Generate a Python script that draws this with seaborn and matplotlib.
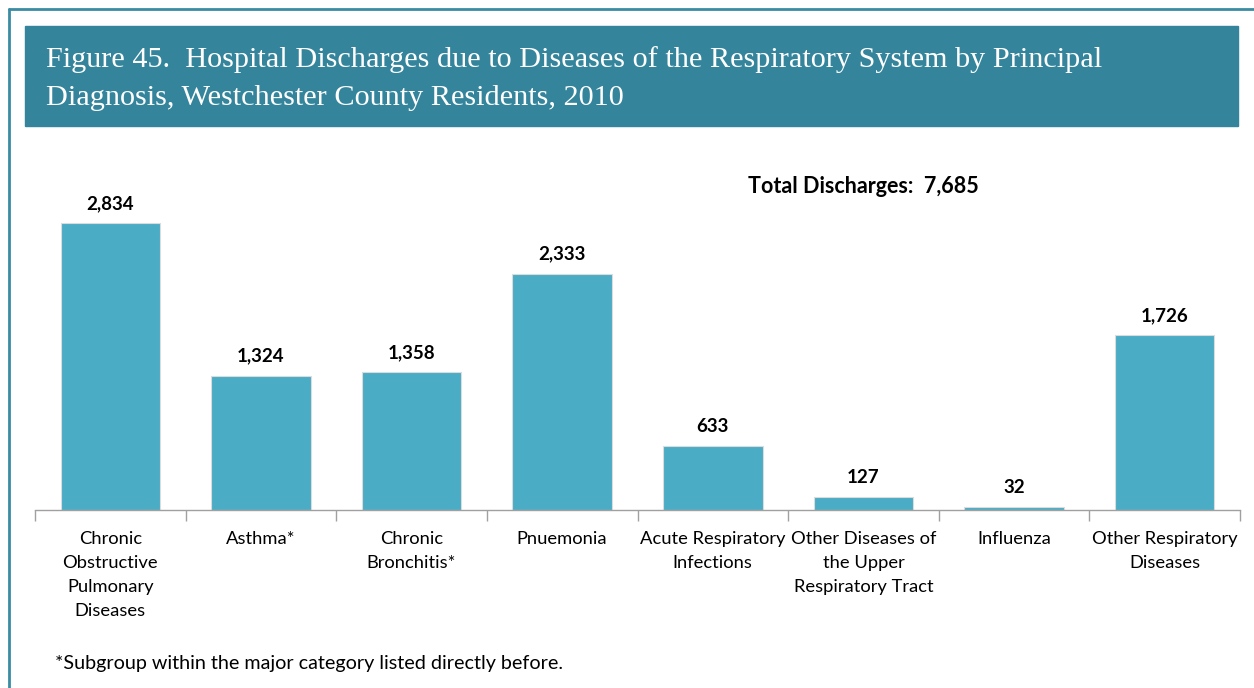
import numpy as np
import pandas as pd
import matplotlib.pyplot as plt
import seaborn as sns
from matplotlib.lines import Line2D
from matplotlib.patches import Rectangle

# Data
categories = ["Chronic\nObstructive\nPulmonary\nDiseases", "Asthma*", "Chronic\nBronchitis*",
              "Pnuemonia", "Acute Respiratory\nInfections", "Other Diseases of\nthe Upper\nRespiratory Tract",
              "Influenza", "Other Respiratory\nDiseases"]
discharges = [2834, 1324, 1358, 2333, 633, 127, 32, 1726]
total = 7685

df = pd.DataFrame({"category": categories, "discharges": discharges})

sns.set_theme(style="white")
plt.rcParams["font.family"] = ["Lato", "DejaVu Sans"]

W, H = 1254, 688
fig = plt.figure(figsize=(W / 100, H / 100), dpi=100)

# outer frame and title banner
frame_col = "#3a8ba3"
fig.add_artist(Line2D([9 / W, 1.0], [1 - 9 / H, 1 - 9 / H], color=frame_col, lw=2))
fig.add_artist(Line2D([9 / W, 9 / W], [0, 1 - 9 / H], color=frame_col, lw=2))
fig.add_artist(Rectangle((25 / W, 1 - 126 / H), (1238 - 25) / W, 100 / H,
                         color="#34849c", transform=fig.transFigure))
fig.text(46 / W, 1 - 60 / H, "Figure 45.  Hospital Discharges due to Diseases of the Respiratory System by Principal",
         color="white", fontsize=21.8, va="center", ha="left", family="Liberation Serif")
fig.text(46 / W, 1 - 98 / H, "Diagnosis, Westchester County Residents, 2010",
         color="white", fontsize=21.8, va="center", ha="left", family="Liberation Serif")

# axes: baseline at y=510 px, 0.1013 px per discharge
ymax = 3200
ax_h = ymax * 0.1013
ax = fig.add_axes([35 / W, 1 - 510 / H, (1240 - 35) / W, ax_h / H])

sns.barplot(data=df, x="category", y="discharges", color="#4bacc6", width=0.66,
            saturation=1, ax=ax, edgecolor="#dcdcdc", linewidth=0.8)
ax.set_ylim(0, ymax)
ax.set_xlim(-0.5, len(categories) - 0.5)

for i, v in enumerate(discharges):
    ax.text(i, v + 110, f"{v:,}", ha="center", va="bottom", fontsize=13.5, fontweight="bold",
            color="black")

ax.set_xlabel("")
ax.set_ylabel("")
ax.set_yticks([])
ax.tick_params(axis="x", which="major", length=0, labelsize=13.2, pad=15, colors="black")
for lab in ax.get_xticklabels():
    lab.set_verticalalignment("top")
    lab.set_linespacing(1.62)
ax.set_xticks(np.arange(-0.5, len(categories), 1.0), minor=True)
ax.tick_params(axis="x", which="minor", length=8, width=1, color="#a0a0a0", direction="out",
               bottom=True)
for side in ["top", "right", "left"]:
    ax.spines[side].set_visible(False)
ax.spines["bottom"].set_color("#a0a0a0")
ax.spines["bottom"].set_linewidth(1)

fig.text(863 / W, 1 - 187 / H, "Total Discharges:  7,685", ha="center", va="center",
         fontsize=15.5, fontweight="bold", color="black")
fig.text(55 / W, 1 - 664 / H, "*Subgroup within the major category listed directly before.",
         ha="left", va="center", fontsize=14.2, color="black")

fig.savefig("out.png", dpi=100)
